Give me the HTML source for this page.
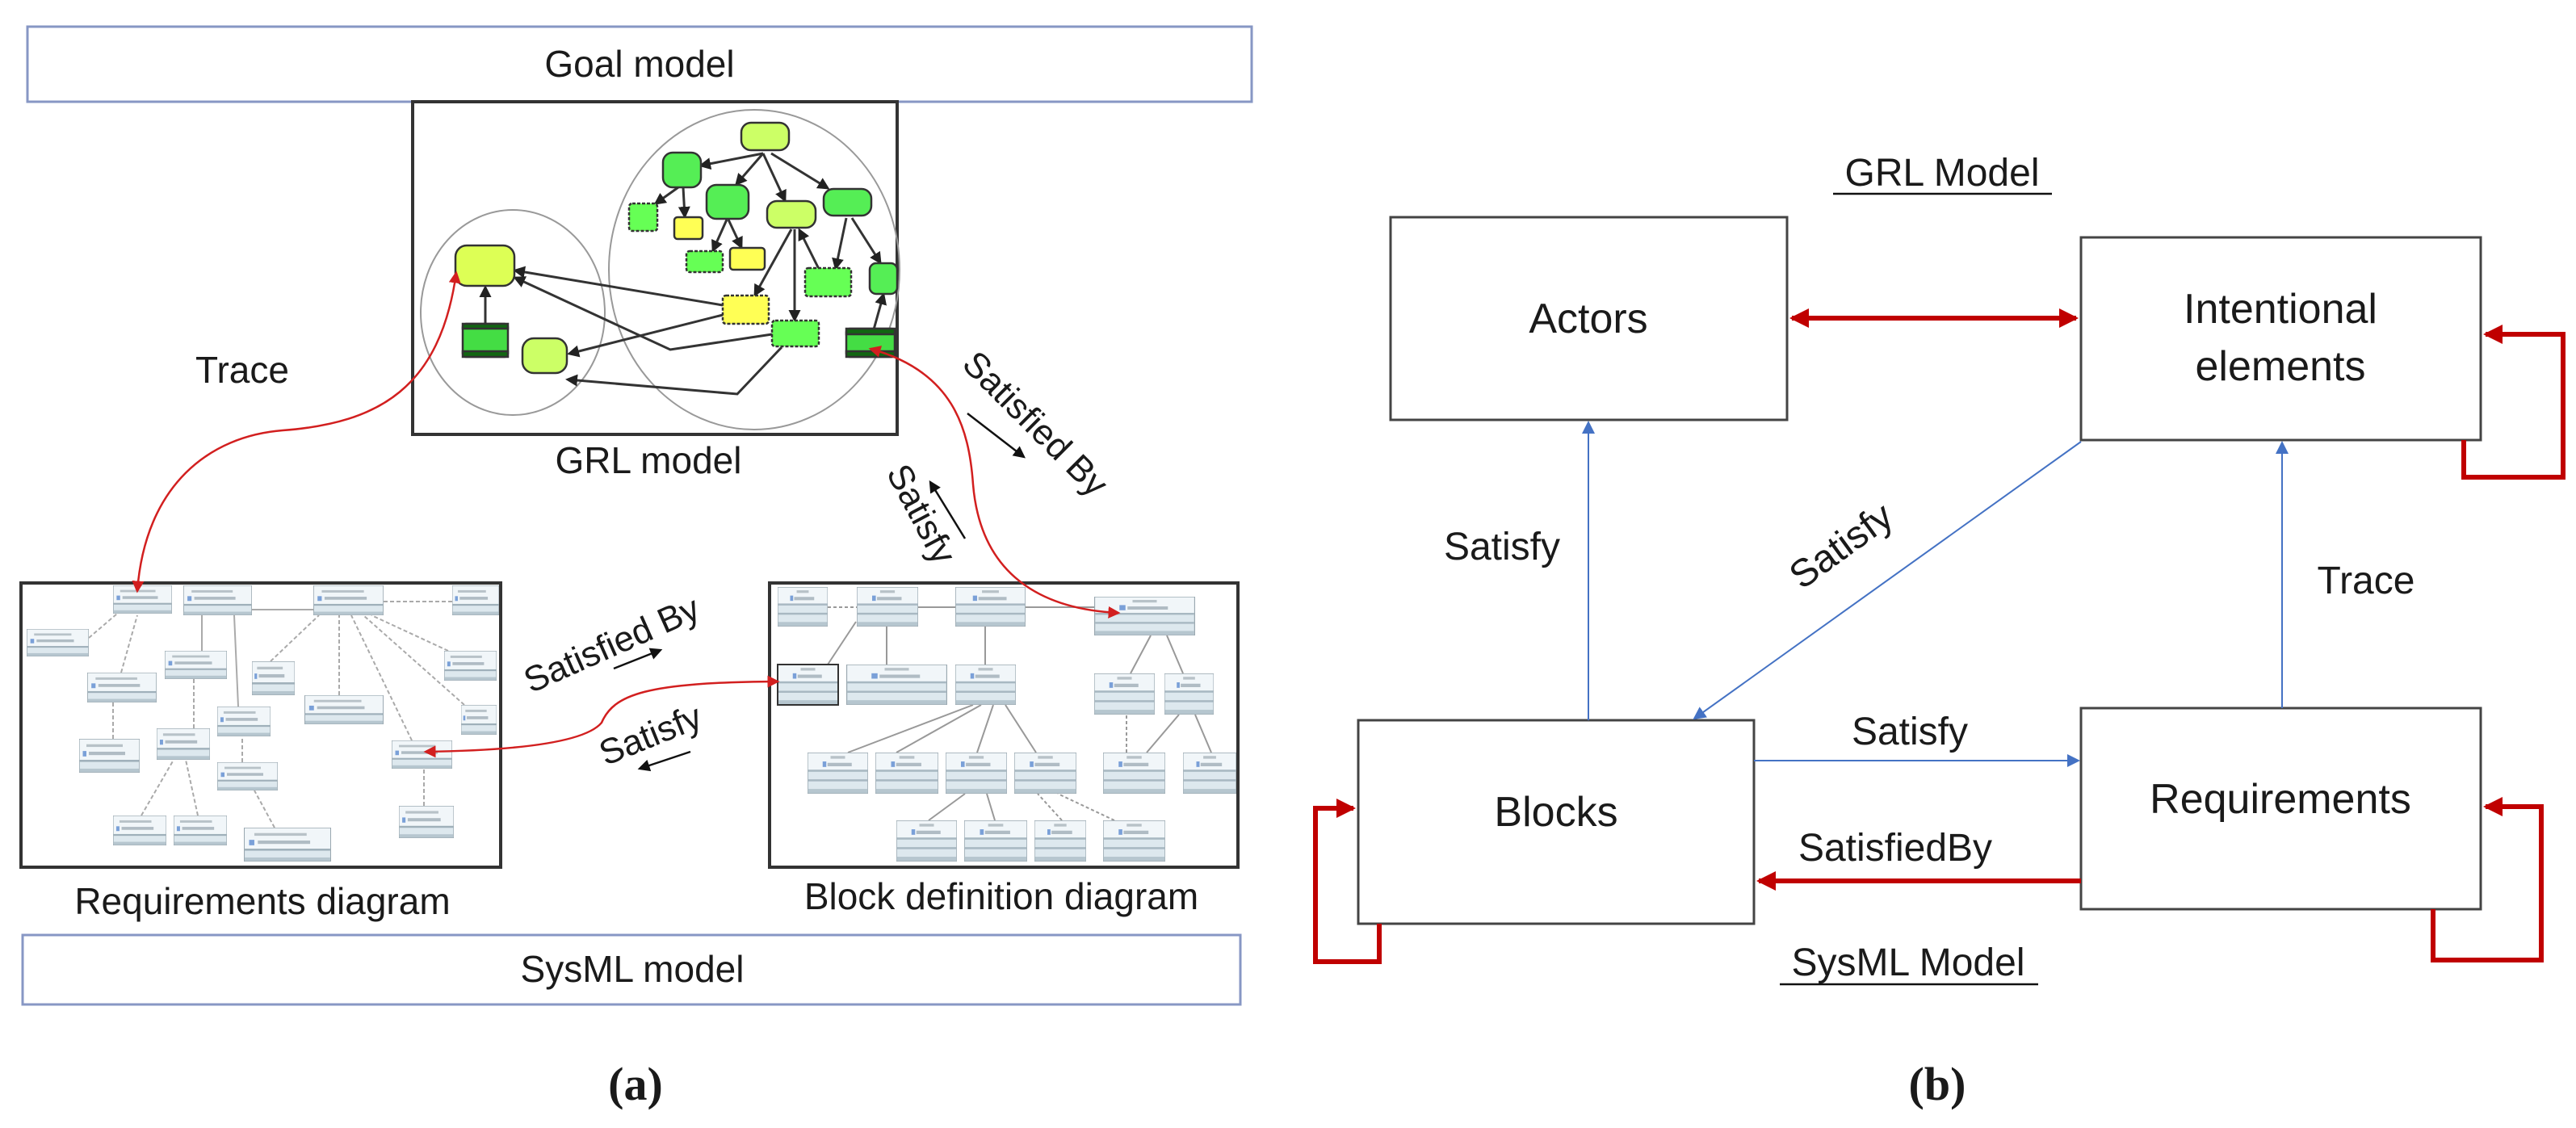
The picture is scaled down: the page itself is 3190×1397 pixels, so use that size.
<!DOCTYPE html>
<html><head><meta charset="utf-8"><style>
html,body{margin:0;padding:0;background:#fff}
svg{display:block}
text{font-family:"Liberation Sans",sans-serif;fill:#1a1a1a}
.s{font-family:"Liberation Serif",serif;font-weight:bold}
</style></head><body>
<svg width="3190" height="1397" viewBox="0 0 3190 1397" xmlns="http://www.w3.org/2000/svg">
<defs>
<symbol id="rq" viewBox="0 0 100 50" preserveAspectRatio="none">
<rect x="0" y="0" width="100" height="50" fill="#dde8ee" stroke="#9aa8b0" stroke-width="2"/>
<rect x="1" y="1" width="98" height="30" fill="#f1f6f9"/>
<rect x="12" y="8" width="60" height="4" fill="#b8c2c8"/>
<rect x="6" y="18" width="6" height="8" fill="#7aa0d8"/>
<rect x="16" y="19" width="60" height="5" fill="#b0bcc4"/>
<rect x="1" y="31" width="98" height="3" fill="#9fb0ba"/>
<rect x="1" y="44" width="98" height="5" fill="#b6c6cf"/>
</symbol>
<symbol id="bk" viewBox="0 0 100 60" preserveAspectRatio="none">
<rect x="0" y="0" width="100" height="60" fill="#dde8ee" stroke="#9aa8b0" stroke-width="2"/>
<rect x="1" y="1" width="98" height="24" fill="#f1f6f9"/>
<rect x="38" y="5" width="24" height="4" fill="#b8c2c8"/>
<rect x="25" y="13" width="6" height="8" fill="#7aa0d8"/>
<rect x="33" y="15" width="40" height="5" fill="#b0bcc4"/>
<rect x="1" y="25" width="98" height="3" fill="#a8b8c2"/>
<rect x="1" y="39" width="98" height="3" fill="#a8b8c2"/>
<rect x="1" y="53" width="98" height="6" fill="#b6c6cf"/>
</symbol>
<marker id="ra" markerWidth="6" markerHeight="6" refX="5" refY="3" orient="auto" markerUnits="strokeWidth"><path d="M0,0 L6,3 L0,6 z" fill="#d21f1f"/></marker>
<marker id="rs" markerWidth="6" markerHeight="6" refX="1" refY="3" orient="auto" markerUnits="strokeWidth"><path d="M6,0 L0,3 L6,6 z" fill="#d21f1f"/></marker>
<marker id="rb" markerWidth="4" markerHeight="4" refX="3.5" refY="2" orient="auto" markerUnits="strokeWidth"><path d="M0,0 L4,2 L0,4 z" fill="#c00000"/></marker>
<marker id="rbs" markerWidth="4" markerHeight="4" refX="0.5" refY="2" orient="auto" markerUnits="strokeWidth"><path d="M4,0 L0,2 L4,4 z" fill="#c00000"/></marker>
<marker id="bl" markerWidth="8" markerHeight="8" refX="7" refY="4" orient="auto" markerUnits="strokeWidth"><path d="M0,0 L8,4 L0,8 z" fill="#4472c4"/></marker>
<marker id="ka" markerWidth="6" markerHeight="6" refX="5" refY="3" orient="auto" markerUnits="strokeWidth"><path d="M0,0 L6,3 L0,6 z" fill="#111"/></marker>
<marker id="ga" markerWidth="5" markerHeight="5" refX="4" refY="2.5" orient="auto" markerUnits="strokeWidth"><path d="M0,0 L5,2.5 L0,5 z" fill="#222"/></marker>
</defs>

<!-- ===== Panel (a) ===== -->
<rect x="34" y="33" width="1516" height="93" fill="#fff" stroke="#8797c4" stroke-width="3"/>
<text x="792" y="95" font-size="46" text-anchor="middle">Goal model</text>

<!-- GRL image -->
<rect x="511" y="126" width="600" height="412" fill="#fff" stroke="#333" stroke-width="4"/>
<ellipse cx="635" cy="387" rx="114" ry="127" fill="none" stroke="#999" stroke-width="2"/>
<ellipse cx="934" cy="334" rx="180" ry="198" fill="none" stroke="#999" stroke-width="2"/>
<g stroke="#333" stroke-width="3" fill="none" marker-end="url(#ga)">
<line x1="945" y1="190" x2="868" y2="205"/>
<line x1="945" y1="190" x2="912" y2="228"/>
<line x1="945" y1="190" x2="972" y2="248"/>
<line x1="955" y1="190" x2="1025" y2="233"/>
<line x1="840" y1="232" x2="812" y2="252"/>
<line x1="846" y1="232" x2="848" y2="268"/>
<line x1="900" y1="272" x2="883" y2="310"/>
<line x1="902" y1="272" x2="918" y2="306"/>
<line x1="980" y1="284" x2="935" y2="365"/>
<line x1="984" y1="284" x2="984" y2="396"/>
<line x1="1015" y1="335" x2="990" y2="285"/>
<line x1="1048" y1="270" x2="1035" y2="332"/>
<line x1="1055" y1="270" x2="1090" y2="325"/>
<line x1="1082" y1="408" x2="1094" y2="365"/>
<line x1="895" y1="378" x2="638" y2="335"/>
<polyline points="956,414 830,433 638,344"/>
<line x1="895" y1="390" x2="705" y2="438"/>
<polyline points="968,430 913,488 703,470"/>
<line x1="601" y1="400" x2="601" y2="356"/>
</g>
<g stroke="#333" stroke-width="2.5">
<rect x="918" y="152" width="59" height="34" rx="12" fill="#ccff66"/>
<rect x="821" y="189" width="47" height="43" rx="12" fill="#55ee55"/>
<rect x="779" y="252" width="35" height="34" rx="4" fill="#66ff55" stroke-dasharray="4 2"/>
<rect x="835" y="269" width="35" height="27" rx="4" fill="#ffff55"/>
<rect x="875" y="229" width="52" height="42" rx="12" fill="#55ee55"/>
<rect x="950" y="249" width="60" height="33" rx="12" fill="#ccff66"/>
<rect x="1020" y="234" width="59" height="33" rx="12" fill="#55ee55"/>
<rect x="850" y="311" width="45" height="26" rx="4" fill="#66ff55" stroke-dasharray="4 2"/>
<rect x="904" y="307" width="43" height="27" rx="4" fill="#ffff55"/>
<rect x="997" y="332" width="57" height="35" rx="4" fill="#66ff55" stroke-dasharray="4 2"/>
<rect x="1077" y="326" width="34" height="38" rx="8" fill="#55ee55"/>
<rect x="895" y="366" width="57" height="35" rx="4" fill="#ffff55" stroke-dasharray="4 2"/>
<rect x="956" y="397" width="58" height="32" rx="4" fill="#66ff55" stroke-dasharray="4 2"/>
<rect x="1048" y="407" width="60" height="35" rx="4" fill="#44dd44"/>
<rect x="1048" y="407" width="60" height="7" fill="#116611"/>
<rect x="1048" y="435" width="60" height="7" fill="#116611"/>
<rect x="564" y="304" width="73" height="50" rx="14" fill="#ddff55"/>
<rect x="573" y="401" width="56" height="41" rx="4" fill="#44dd44"/>
<rect x="573" y="401" width="56" height="6" fill="#116611"/>
<rect x="573" y="435" width="56" height="7" fill="#116611"/>
<rect x="647" y="419" width="55" height="43" rx="14" fill="#ccff66"/>
</g>

<!-- Requirements diagram -->
<rect x="26" y="722" width="594" height="352" fill="#fff" stroke="#333" stroke-width="4"/>
<g stroke="#aaa" stroke-width="2" fill="none" stroke-dasharray="5 3">
<line x1="110" y1="790" x2="145" y2="760"/>
<line x1="150" y1="833" x2="170" y2="762"/>
<line x1="140" y1="915" x2="140" y2="870"/>
<line x1="240" y1="902" x2="240" y2="841"/>
<line x1="175" y1="1010" x2="215" y2="941"/>
<line x1="245" y1="1010" x2="230" y2="941"/>
<line x1="300" y1="944" x2="300" y2="912"/>
<line x1="340" y1="1025" x2="315" y2="979"/>
<line x1="335" y1="819" x2="395" y2="762"/>
<line x1="420" y1="861" x2="420" y2="762"/>
<line x1="510" y1="917" x2="435" y2="762"/>
<line x1="575" y1="873" x2="450" y2="762"/>
<line x1="555" y1="806" x2="460" y2="762"/>
<line x1="525" y1="998" x2="525" y2="952"/>
<line x1="250" y1="806" x2="250" y2="762" stroke-dasharray="none"/>
<line x1="295" y1="875" x2="290" y2="762" stroke-dasharray="none"/>
<line x1="312" y1="755" x2="388" y2="755" stroke-dasharray="none"/>
<line x1="475" y1="745" x2="560" y2="745"/>
</g>
<g>
<use href="#rq" x="140" y="725" width="73" height="35"/>
<use href="#rq" x="227" y="725" width="85" height="37"/>
<use href="#rq" x="388" y="725" width="87" height="37"/>
<use href="#rq" x="560" y="725" width="58" height="37"/>
<use href="#rq" x="33" y="779" width="77" height="34"/>
<use href="#rq" x="108" y="833" width="86" height="37"/>
<use href="#rq" x="204" y="806" width="77" height="35"/>
<use href="#rq" x="312" y="819" width="53" height="42"/>
<use href="#rq" x="377" y="861" width="98" height="36"/>
<use href="#rq" x="550" y="806" width="65" height="37"/>
<use href="#rq" x="571" y="873" width="44" height="37"/>
<use href="#rq" x="98" y="915" width="75" height="42"/>
<use href="#rq" x="194" y="902" width="66" height="39"/>
<use href="#rq" x="269" y="875" width="66" height="37"/>
<use href="#rq" x="485" y="917" width="75" height="35"/>
<use href="#rq" x="269" y="944" width="75" height="35"/>
<use href="#rq" x="140" y="1010" width="66" height="37"/>
<use href="#rq" x="215" y="1010" width="66" height="37"/>
<use href="#rq" x="302" y="1025" width="108" height="42"/>
<use href="#rq" x="494" y="998" width="68" height="40"/>
</g>

<!-- Block definition diagram -->
<rect x="953" y="722" width="580" height="352" fill="#fff" stroke="#333" stroke-width="4"/>
<g stroke="#999" stroke-width="2" fill="none">
<line x1="1025" y1="752" x2="1061" y2="752" stroke-dasharray="4 3"/>
<line x1="1137" y1="752" x2="1183" y2="752"/>
<line x1="1270" y1="752" x2="1355" y2="752"/>
<line x1="1060" y1="770" x2="1025" y2="823"/>
<line x1="1098" y1="776" x2="1098" y2="823"/>
<line x1="1220" y1="823" x2="1220" y2="776"/>
<line x1="1400" y1="834" x2="1425" y2="787"/>
<line x1="1465" y1="834" x2="1445" y2="787"/>
<line x1="1050" y1="932" x2="1205" y2="873"/>
<line x1="1110" y1="932" x2="1215" y2="873"/>
<line x1="1210" y1="932" x2="1230" y2="873"/>
<line x1="1283" y1="932" x2="1245" y2="873"/>
<line x1="1395" y1="932" x2="1395" y2="885" stroke-dasharray="4 3"/>
<line x1="1420" y1="932" x2="1460" y2="885"/>
<line x1="1500" y1="932" x2="1480" y2="885"/>
<line x1="1150" y1="1016" x2="1195" y2="983"/>
<line x1="1232" y1="1016" x2="1222" y2="983"/>
<line x1="1315" y1="1016" x2="1285" y2="983" stroke-dasharray="4 3"/>
<line x1="1380" y1="1016" x2="1310" y2="983" stroke-dasharray="4 3"/>
</g>
<g>
<use href="#bk" x="963" y="727" width="62" height="49"/>
<use href="#bk" x="1061" y="727" width="76" height="49"/>
<use href="#bk" x="1183" y="727" width="87" height="49"/>
<use href="#bk" x="1355" y="739" width="125" height="48"/>
<use href="#bk" x="963" y="823" width="75" height="50"/>
<use href="#bk" x="1048" y="823" width="125" height="50"/>
<use href="#bk" x="1183" y="823" width="75" height="50"/>
<use href="#bk" x="1355" y="834" width="75" height="51"/>
<use href="#bk" x="1442" y="834" width="61" height="51"/>
<use href="#bk" x="1000" y="932" width="75" height="51"/>
<use href="#bk" x="1084" y="932" width="78" height="51"/>
<use href="#bk" x="1171" y="932" width="76" height="51"/>
<use href="#bk" x="1256" y="932" width="77" height="51"/>
<use href="#bk" x="1366" y="932" width="77" height="51"/>
<use href="#bk" x="1465" y="932" width="66" height="51"/>
<use href="#bk" x="1110" y="1016" width="75" height="51"/>
<use href="#bk" x="1194" y="1016" width="78" height="51"/>
<use href="#bk" x="1281" y="1016" width="64" height="51"/>
<use href="#bk" x="1366" y="1016" width="77" height="51"/>
</g>
<rect x="963" y="823" width="75" height="50" fill="none" stroke="#333" stroke-width="2"/>

<!-- red curves (a) -->
<g stroke="#d21f1f" stroke-width="2.5" fill="none" marker-start="url(#rs)" marker-end="url(#ra)">
<path d="M170,732 C180,600 260,540 350,533 C470,524 545,480 565,338"/>
<path d="M1078,432 C1180,460 1200,530 1205,600 C1215,720 1300,755 1385,759"/>
<path d="M963,844 C800,845 760,860 745,895 C720,925 600,930 527,931"/>
</g>

<text x="300" y="474" font-size="46" text-anchor="middle">Trace</text>
<text x="803" y="586" font-size="46" text-anchor="middle">GRL model</text>
<text x="1283" y="540" font-size="44" text-anchor="middle" transform="rotate(45 1283 524)">Satisfied By</text>
<line x1="1198" y1="512" x2="1268" y2="566" stroke="#111" stroke-width="2.5" marker-end="url(#ka)"/>
<text x="1142" y="652" font-size="44" text-anchor="middle" transform="rotate(62 1142 636)">Satisfy</text>
<line x1="1195" y1="667" x2="1152" y2="597" stroke="#111" stroke-width="2.5" marker-end="url(#ka)"/>
<text x="757" y="813" font-size="44" text-anchor="middle" transform="rotate(-24 757 797)">Satisfied By</text>
<line x1="760" y1="828" x2="818" y2="805" stroke="#111" stroke-width="2.5" marker-end="url(#ka)"/>
<text x="805" y="925" font-size="44" text-anchor="middle" transform="rotate(-22 805 909)">Satisfy</text>
<line x1="855" y1="931" x2="792" y2="952" stroke="#111" stroke-width="2.5" marker-end="url(#ka)"/>

<text x="325" y="1132" font-size="46" text-anchor="middle">Requirements  diagram</text>
<text x="1240" y="1126" font-size="46" text-anchor="middle">Block definition  diagram</text>

<rect x="28" y="1158" width="1508" height="86" fill="#fff" stroke="#8797c4" stroke-width="3"/>
<text x="783" y="1216" font-size="46" text-anchor="middle">SysML model</text>

<text x="787" y="1362" font-size="58" class="s" text-anchor="middle">(<tspan class="s">a</tspan>)</text>

<!-- ===== Panel (b) ===== -->
<text x="2405" y="230" font-size="48" text-anchor="middle">GRL Model</text>
<line x1="2270" y1="240" x2="2541" y2="240" stroke="#111" stroke-width="2.5"/>

<g fill="#fff" stroke="#444" stroke-width="3">
<rect x="1722" y="269" width="491" height="251"/>
<rect x="2577" y="294" width="495" height="251"/>
<rect x="1682" y="892" width="490" height="252"/>
<rect x="2577" y="877" width="495" height="249"/>
</g>
<text x="1967" y="412" font-size="52" text-anchor="middle">Actors</text>
<text x="2824" y="400" font-size="52" text-anchor="middle">Intentional</text>
<text x="2824" y="471" font-size="52" text-anchor="middle">elements</text>
<text x="1927" y="1023" font-size="52" text-anchor="middle">Blocks</text>
<text x="2824" y="1007" font-size="52" text-anchor="middle">Requirements</text>

<!-- blue arrows -->
<g stroke="#4472c4" stroke-width="2" fill="none" marker-end="url(#bl)">
<line x1="1967" y1="892" x2="1967" y2="523"/>
<line x1="2577" y1="547" x2="2098" y2="890"/>
<line x1="2826" y1="877" x2="2826" y2="548"/>
<line x1="2172" y1="942" x2="2574" y2="942"/>
</g>
<text x="1860" y="693" font-size="48" text-anchor="middle">Satisfy</text>
<text x="2280" y="692" font-size="48" text-anchor="middle" transform="rotate(-36 2280 676)">Satisfy</text>
<text x="2930" y="735" font-size="48" text-anchor="middle">Trace</text>
<text x="2365" y="922" font-size="48" text-anchor="middle">Satisfy</text>
<text x="2347" y="1066" font-size="48" text-anchor="middle">SatisfiedBy</text>

<!-- red arrows -->
<g stroke="#c00000" stroke-width="6" fill="none">
<line x1="2219" y1="394" x2="2571" y2="394" marker-start="url(#rbs)" marker-end="url(#rb)"/>
<line x1="2577" y1="1091" x2="2178" y2="1091" marker-end="url(#rb)"/>
<polyline points="3051,545 3051,591 3174,591 3174,414 3078,414" marker-end="url(#rb)"/>
<polyline points="1708,1144 1708,1191 1629,1191 1629,1001 1676,1001" marker-end="url(#rb)"/>
<polyline points="3013,1126 3013,1189 3147,1189 3147,999 3078,999" marker-end="url(#rb)"/>
</g>

<text x="2363" y="1208" font-size="48" text-anchor="middle">SysML Model</text>
<line x1="2204" y1="1219" x2="2524" y2="1219" stroke="#111" stroke-width="2.5"/>

<text x="2399" y="1362" font-size="58" class="s" text-anchor="middle">(b)</text>
</svg>
</body></html>
